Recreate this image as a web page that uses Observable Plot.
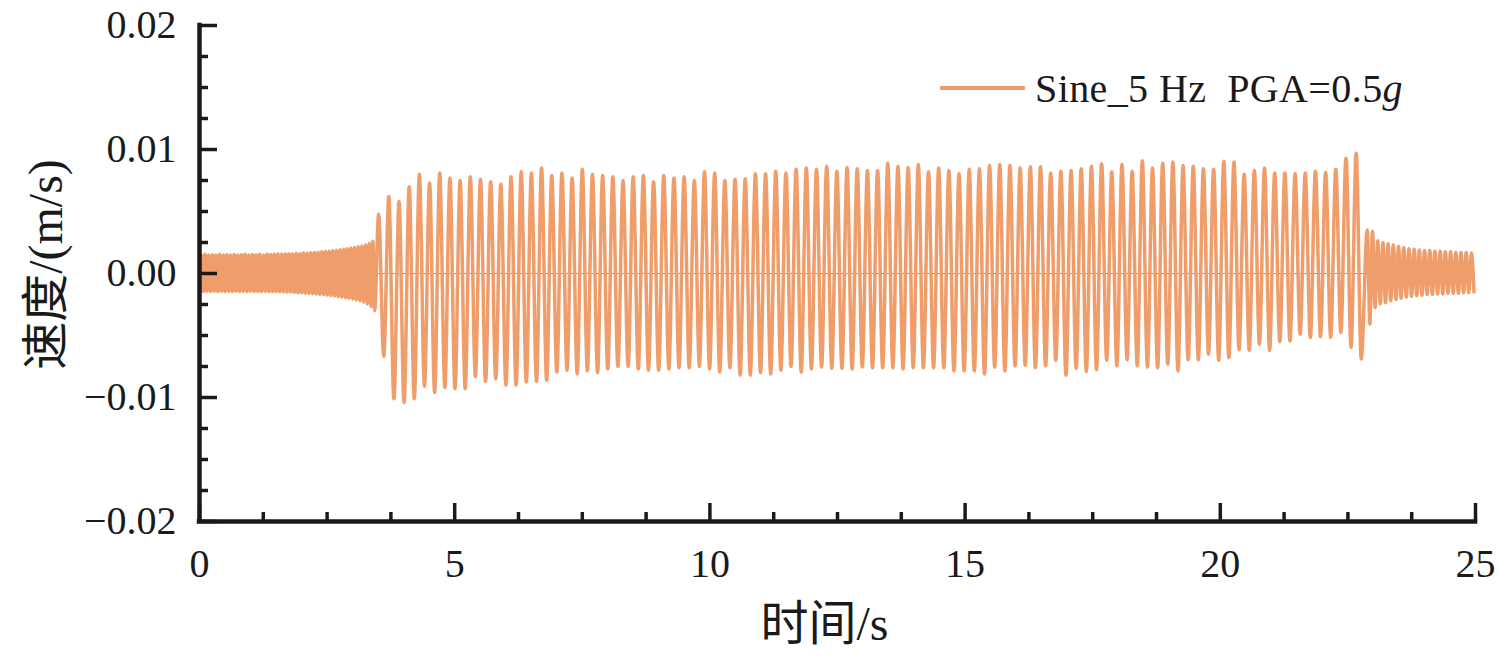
<!DOCTYPE html>
<html>
<head>
<meta charset="utf-8">
<script src="https://cdn.jsdelivr.net/npm/d3@7"></script>
<script src="https://cdn.jsdelivr.net/npm/@observablehq/plot@0.6"></script>
<style>
  html, body { margin: 0; padding: 0; background: #ffffff; }
  #wrap { position: relative; width: 1498px; height: 659px; overflow: hidden; }
  #legend { position: absolute; left: 940px; top: 64px; height: 48px; display: flex; align-items: center;
            font-family: "Liberation Serif", "Times New Roman", Times, "DejaVu Serif", "Noto Sans CJK SC", serif;
            font-size: 40px; letter-spacing: 0.4px; color: #1a1a1a; white-space: pre; }
  #legend .swatch { display: inline-block; width: 85px; height: 3.4px; margin-right: 10px; }
</style>
</head>
<body>
<div id="wrap"><div id="legend"></div></div>
<script>
// ---------------- data (velocity peaks in mm/s) ----------------
const seriesName = "Sine_5 Hz  PGA=0.5";
const seriesNameItalic = "g";
const lineColor = "#EF9D6B";

// axis ticks
const xMajor = [0, 5, 10, 15, 20, 25];
const xMinor = [1.25, 2.5, 3.75, 6.25, 7.5, 8.75, 11.25, 12.5, 13.75, 16.25, 17.5, 18.75, 21.25, 22.5, 23.75];
const yMajor = [-0.02, -0.01, 0, 0.01, 0.02];
const yMinor = [-0.0175, -0.015, -0.0125, -0.0075, -0.005, -0.0025, 0.0025, 0.005, 0.0075, 0.0125, 0.015, 0.0175];

// segment 1: low-level oscillation before the main excitation (t = 0 ... 3.45 s)
const preStartValue = -1.4;
const preT0 = 0;
const prePeriod = 0.0715;
const preUp = [
  1.50, 1.55, 1.50, 1.52, 1.50, 1.55, 1.50, 1.52, 1.50, 1.53,
  1.50, 1.52, 1.55, 1.50, 1.53, 1.52, 1.55, 1.50, 1.55, 1.53,
  1.55, 1.57, 1.55, 1.58, 1.60, 1.58, 1.62, 1.60, 1.65, 1.63,
  1.68, 1.70, 1.72, 1.75, 1.77, 1.80, 1.84, 1.88, 1.92, 1.96,
  2.00, 2.05, 2.10, 2.15, 2.22, 2.30, 2.42, 2.60
];
const preDown = [
  -1.45, -1.42, -1.45, -1.43, -1.45, -1.42, -1.45, -1.43, -1.45, -1.42,
  -1.45, -1.43, -1.45, -1.42, -1.45, -1.44, -1.45, -1.43, -1.46, -1.45,
  -1.46, -1.47, -1.48, -1.50, -1.50, -1.52, -1.55, -1.55, -1.58, -1.60,
  -1.62, -1.65, -1.68, -1.70, -1.73, -1.77, -1.80, -1.85, -1.90, -1.95,
  -2.00, -2.05, -2.12, -2.20, -2.30, -2.45, -2.65, -3.00
];

// segment 2: main 5 Hz response (t = 3.51 ... 22.76 s), one peak + one trough per cycle
const mainT0 = 3.51;
const mainPeriod = 0.1995;
const mainUp = [
  4.8, 6.2, 5.8, 7.0, 8.0, 7.3, 8.1, 7.7,
  7.5, 7.8, 7.6, 7.4, 7.2, 7.8, 8.2, 8.1, 8.5, 7.9, 8.1, 7.7, 8.4, 8.0, 7.9, 7.8, 7.5, 7.8, 7.9, 7.4, 7.9, 7.7, 7.8, 7.5, 8.2, 8.1,
  7.5, 7.6, 7.65, 8.05, 8.05, 8.25, 8.1, 8.4, 8.5, 8.4, 8.65, 8.25, 8.55, 8.45, 8.3, 8.3, 8.9, 8.65, 8.55, 8.8, 8.2, 8.5, 8.3, 8.05, 8.4,
  8.45, 8.7, 8.8, 8.7, 8.5, 8.6, 8.6, 8.1, 8.25, 8.3, 8.45, 8.65, 8.85, 8.2, 8.8, 8.25, 9.1, 8.5, 8.9, 9.0, 8.7, 8.65, 8.45, 8.4, 9.05, 9.0,
  8.0, 8.3, 8.5, 8.1, 8.1, 8.05, 8.1, 8.25, 8.15, 8.4, 9.3, 9.7
];
const mainDown = [
  -6.7, -10.1, -10.4, -10.1, -9.1, -9.6, -9.2, -9.3,
  -9.3, -8.3, -8.7, -8.5, -9.0, -9.0, -8.75, -8.7, -8.6, -7.95, -7.8, -8.1, -7.85, -8.0, -7.7, -7.5, -7.5, -7.7, -7.8, -7.8, -7.7, -7.6, -7.6, -7.5, -7.7, -7.95,
  -7.6, -8.2, -8.2, -8.0, -8.1, -7.8, -7.5, -7.95, -7.7, -7.55, -7.65, -7.65, -7.7, -7.55, -7.6, -7.6, -7.6, -7.7, -7.6, -7.6, -7.6, -7.6, -7.85, -7.85, -7.85,
  -8.1, -7.55, -7.85, -7.45, -7.4, -7.6, -7.45, -7.0, -8.2, -7.65, -7.9, -7.75, -7.0, -7.45, -6.95, -7.45, -7.55, -7.6, -7.3, -7.85, -6.95, -6.95, -6.5, -7.0, -6.8, -6.15,
  -6.2, -5.7, -6.2, -5.5, -5.45, -4.9, -5.15, -5.1, -5.15, -4.75, -5.95, -6.9
];

// segment 3: decaying free response after the excitation (t = 22.88 ... 24.97 s)
const tailT0 = 22.88;
const tailPeriod = 0.102;
const tailUp = [3.5, 3.4, 2.65, 2.5, 2.4, 2.3, 2.2, 2.1, 2.0, 1.95, 1.9, 1.85, 1.85, 1.8, 1.8, 1.75, 1.75, 1.7, 1.7, 1.7, 1.65];
const tailDown = [-4.1, -2.75, -2.45, -2.35, -2.2, -2.1, -2.0, -1.9, -1.85, -1.8, -1.75, -1.7, -1.7, -1.65, -1.65, -1.6, -1.6, -1.6, -1.55, -1.55, -1.5];

// ---------------- build the table (time, velocity in m/s) ----------------
const rows = [{t: preT0, v: preStartValue / 1000}];
// peak at t0 + k*period, trough half a period later
function addSegment(t0, period, ups, downs) {
  ups.forEach((u, k) => {
    rows.push({t: t0 + k * period, v: u / 1000});
    rows.push({t: t0 + k * period + period / 2, v: downs[k] / 1000});
  });
}
addSegment(preT0 + prePeriod / 2, prePeriod, preUp, preDown);
addSegment(mainT0, mainPeriod, mainUp, mainDown);
addSegment(tailT0, tailPeriod, tailUp, tailDown);

// ---------------- chart ----------------
const W = 1498, H = 659;
const mL = 199, mR = 23, mT = 25, mB = 138;
const frameW = W - mL - mR, frameH = H - mT - mB;
const ink = "#1a1a1a";
const serif = "\"Liberation Serif\", \"Times New Roman\", Times, \"DejaVu Serif\", \"Noto Sans CJK SC\", serif";
const fmt = d3.format(".2f");

const svg = Plot.plot({
  width: W, height: H,
  marginLeft: mL, marginRight: mR, marginTop: mT, marginBottom: mB,
  x: {domain: [0, 25]},
  y: {domain: [-0.02, 0.02]},
  style: {fontFamily: serif, fontSize: "40px", color: ink, background: "#ffffff", overflow: "visible"},
  marks: [
    Plot.ruleY([0], {stroke: "#c8663f", strokeWidth: 0.8}),
    Plot.line(rows, {x: "t", y: "v", stroke: lineColor, strokeWidth: 3.5, curve: "monotone-x", strokeLinejoin: "round"}),
    // inward ticks
    Plot.tickY(yMajor, {y: d => d, stroke: ink, strokeWidth: 3.5, insetRight: frameW - 18}),
    Plot.tickY(yMinor, {y: d => d, stroke: ink, strokeWidth: 3.5, insetRight: frameW - 9}),
    Plot.tickX(xMajor, {x: d => d, stroke: ink, strokeWidth: 3.5, insetTop: frameH - 18}),
    Plot.tickX(xMinor, {x: d => d, stroke: ink, strokeWidth: 3.5, insetTop: frameH - 9}),
    // axis lines
    Plot.ruleX([0], {y1: -0.02, y2: 0.02, stroke: ink, strokeWidth: 4.5, strokeLinecap: "square"}),
    Plot.ruleY([-0.02], {x1: 0, x2: 25, stroke: ink, strokeWidth: 4.5, strokeLinecap: "square"}),
    // tick labels
    Plot.axisY(yMajor, {tickSize: 0, tickPadding: 23, tickFormat: fmt, label: null, fontSize: 40, fontFamily: serif}),
    Plot.axisX(xMajor, {tickSize: 0, tickPadding: 27, label: null, fontSize: 40, fontFamily: serif}),
    // axis titles
    Plot.text(["速度/(m/s)"], {frameAnchor: "left", text: d => d, rotate: -90, textAnchor: "middle", lineAnchor: "middle",
      dx: -153, dy: -9, fontSize: 48, fontFamily: serif, fill: ink}),
    Plot.text(["时间/s"], {frameAnchor: "bottom", text: d => d, textAnchor: "middle", lineAnchor: "middle",
      dx: -13, dy: 103, fontSize: 48, fontFamily: serif, fill: ink})
  ]
});
document.getElementById("wrap").prepend(svg);

// legend
const lg = document.getElementById("legend");
const sw = document.createElement("span");
sw.className = "swatch"; sw.style.background = lineColor;
lg.appendChild(sw);
const tx = document.createElement("span");
tx.textContent = seriesName;
const it = document.createElement("i");
it.textContent = seriesNameItalic;
tx.appendChild(it);
lg.appendChild(tx);
</script>
</body>
</html>
